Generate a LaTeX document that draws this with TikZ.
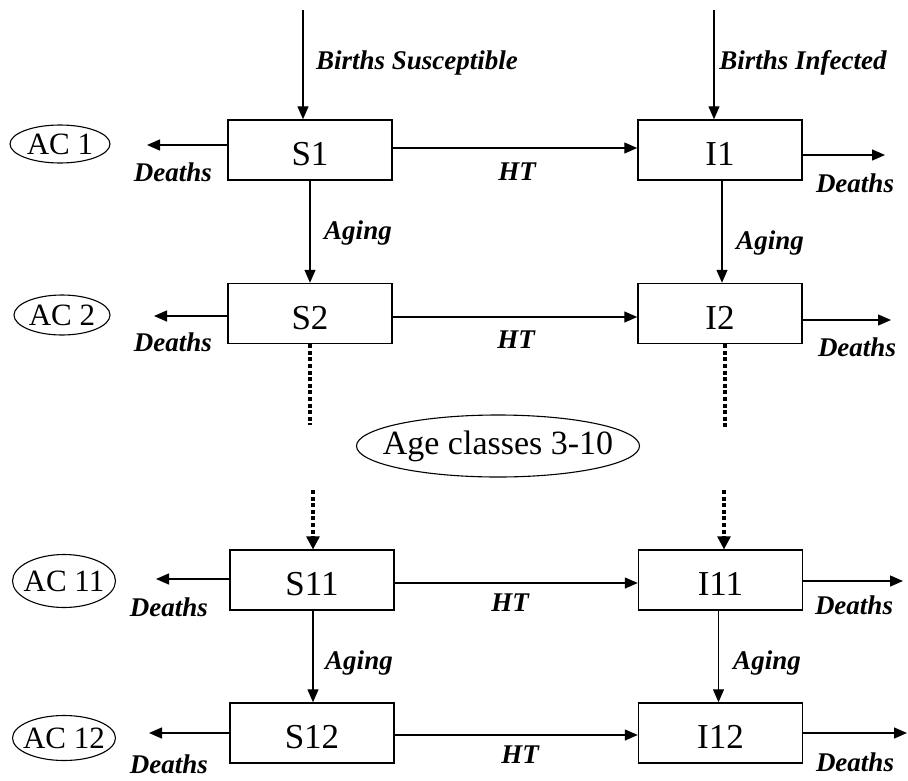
\documentclass[tikz,border=0pt]{standalone}
\usepackage{fontspec}
\setmainfont{Liberation Serif}
\usetikzlibrary{arrows.meta,shapes.geometric}
\begin{document}
\begin{tikzpicture}[x=1pt,y=-1pt,
  box/.style={draw,line width=1.5pt,minimum width=164pt,minimum height=60pt,inner sep=0pt,text height=31pt,text depth=0pt,font=\fontsize{35}{39}\selectfont},
  oval/.style={draw,line width=1.1pt,ellipse,inner sep=0pt},
  ovtext/.style={inner sep=0pt,font=\fontsize{31}{35}\selectfont},
  lbl/.style={inner sep=0pt,font=\fontsize{27}{31}\selectfont\bfseries\itshape},
  arr/.style={line width=1.4pt,-{Triangle[length=13pt,width=11pt]}},
  dots/.style={line width=3.8pt,dash pattern=on 4pt off 2.6pt},
  dotarr/.style={dots,-{Triangle[length=13pt,width=14pt,line width=0pt]}}]
\useasboundingbox (0,0) rectangle (908,780);

% boxes
\node[box] (S1) at (310,150) {S1};
\node[box] (I1) at (720,150) {I1};
\node[box] (S2) at (310,313.5) {S2};
\node[box] (I2) at (720,313.5) {I2};
\node[box] (S11) at (312,580) {S11};
\node[box] (I11) at (720.5,580) {I11};
\node[box] (S12) at (312,733) {S12};
\node[box] (I12) at (720.5,733) {I12};

% age-class ovals
\node[oval,minimum width=100pt,minimum height=38pt] (ac1) at (60,144) {};
\node[ovtext] (ac1t) at (ac1) {AC 1};
\node[oval,minimum width=96pt,minimum height=40pt] (ac2) at (62,315) {};
\node[ovtext] (ac2t) at (ac2) {AC 2};
\node[oval,minimum width=103pt,minimum height=53pt] (ac11) at (64,581) {};
\node[ovtext] (ac11t) at (ac11) {AC 11};
\node[oval,minimum width=103pt,minimum height=45pt] (ac12) at (64,738) {};
\node[ovtext] (ac12t) at (ac12) {AC 12};
\node[oval,minimum width=283pt,minimum height=62pt] (mid) at (498,446) {};
\node[ovtext,font=\fontsize{34}{38}\selectfont] (midt) at (mid) {Age classes 3-10};

% free ends
\coordinate (bs) at (303,10);
\coordinate (bi) at (714,10);
\coordinate (d1) at (147,145);
\coordinate (e1) at (885,155);
\coordinate (d2) at (154,316);
\coordinate (e2) at (891,320);
\coordinate (d11) at (156,579);
\coordinate (e11) at (903,581);
\coordinate (d12) at (149,733);
\coordinate (e12) at (907,733);
\coordinate (s2end) at (310,425);
\coordinate (i2end) at (725,427);
\coordinate (s11start) at (313,490);
\coordinate (i11start) at (724,490);

% births
\draw[arr] (bs) -- (bs |- S1.north);
\draw[arr] (bi) -- (bi |- I1.north);

% deaths
\draw[arr] (S1.west |- d1) -- (d1);
\draw[arr] (I1.east |- e1) -- (e1);
\draw[arr] (S2.west |- d2) -- (d2);
\draw[arr] (I2.east |- e2) -- (e2);
\draw[arr] (S11.west |- d11) -- (d11);
\draw[arr] (I11.east |- e11) -- (e11);
\draw[arr] (S12.west |- d12) -- (d12);
\draw[arr] (I12.east |- e12) -- (e12);

% HT
\draw[arr] ([yshift=2pt]S1.east) -- ([yshift=2pt]I1.west);
\draw[arr] ([yshift=-3.5pt]S2.east) -- ([yshift=-3.5pt]I2.west);
\draw[arr] ([yshift=-3pt]S11.east) -- ([yshift=-3pt]I11.west);
\draw[arr] ([yshift=-2pt]S12.east) -- ([yshift=-2pt]I12.west);

% aging
\draw[arr] (S1) -- (S2);
\draw[arr] ([xshift=2pt]I1.south) -- ([xshift=2pt]I2.north);
\draw[arr] ([xshift=1pt]S11.south) -- ([xshift=1pt]S12.north);
\draw[arr] ([xshift=-2pt]I11.south) -- ([xshift=-2pt]I12.north);

% dotted continuation
\draw[dots] (S2.south -| s2end) -- (s2end);
\draw[dots] (I2.south -| i2end) -- (i2end);
\draw[dotarr] (s11start) -- (s11start |- S11.north);
\draw[dotarr] (i11start) -- (i11start |- I11.north);

% labels
\node[lbl] (lbs) at (417,63) {Births Susceptible};
\node[lbl] (lbi) at (803,63) {Births Infected};
\node[lbl] (ld1) at (173,172) {Deaths};
\node[lbl] (lh1) at (517,172) {HT};
\node[lbl] (le1) at (855,183) {Deaths};
\node[lbl] (la1) at (358,233) {Aging};
\node[lbl] (lb1) at (770,243) {Aging};
\node[lbl] (ld2) at (173,342) {Deaths};
\node[lbl] (lh2) at (516,340) {HT};
\node[lbl] (le2) at (857,347) {Deaths};
\node[lbl] (ld11) at (169,607) {Deaths};
\node[lbl] (lh11) at (510,603) {HT};
\node[lbl] (le11) at (854,605) {Deaths};
\node[lbl] (la11) at (359,663) {Aging};
\node[lbl] (lb11) at (767,663) {Aging};
\node[lbl] (ld12) at (169,764) {Deaths};
\node[lbl] (lh12) at (520,755) {HT};
\node[lbl] (le12) at (855,762) {Deaths};
\end{tikzpicture}
\end{document}
